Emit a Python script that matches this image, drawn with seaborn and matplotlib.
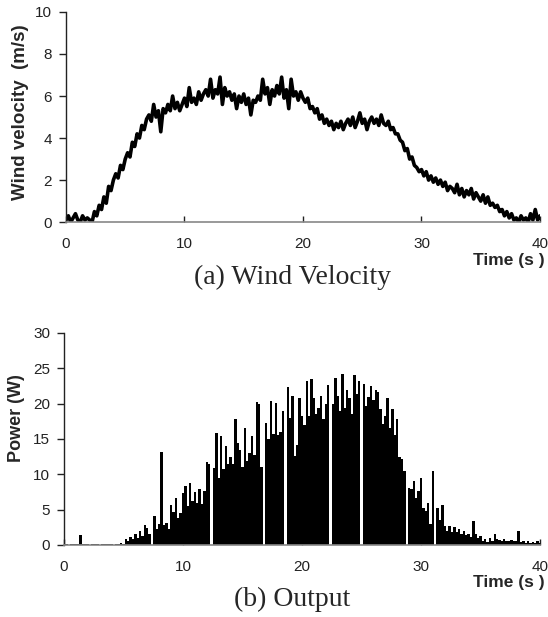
import numpy as np
import matplotlib
matplotlib.use("Agg")
import matplotlib.pyplot as plt
import seaborn as sns

t_start, t_end = 0.0, 40.0

wind_ms = [
    0.1, 0.3, 0.0, 0.2, 0.4, 0.1, 0.0, 0.3, 0.1, 0.2,
    0.1, 0.0, 0.5, 0.3, 0.8, 0.6, 1.2, 0.9, 1.7, 1.5,
    2.0, 2.3, 2.1, 2.7, 2.5, 3.0, 3.3, 3.1, 3.8, 3.6,
    4.2, 4.0, 4.6, 4.4, 4.9, 5.1, 4.8, 5.6, 5.0, 5.3,
    4.3, 5.4, 5.2, 5.6, 5.3, 6.0, 5.4, 5.7, 5.3, 5.6,
    5.9, 5.5, 6.4, 5.7, 5.9, 5.6, 6.2, 5.8, 6.1, 6.3,
    6.0, 6.8, 5.9, 6.3, 6.1, 6.9, 5.6, 6.4, 6.0, 6.2,
    5.8, 6.1, 5.4, 6.0, 5.7, 6.1, 5.6, 5.9, 5.1, 5.8,
    5.7, 6.0, 5.8, 6.8, 6.1, 6.4, 5.6, 6.3, 6.0, 6.5,
    6.1, 6.9, 5.9, 6.3, 5.4, 6.8, 6.0, 6.2, 5.8, 6.2,
    5.9, 5.7, 5.9, 5.4, 5.5, 5.2, 5.4, 4.9, 5.1, 4.7,
    4.9, 4.6, 4.8, 4.4, 4.7, 4.5, 4.8, 4.4, 4.7, 4.9,
    4.6, 5.0, 4.5, 4.8, 5.2, 4.7, 4.9, 4.4, 4.8, 5.0,
    4.7, 4.9, 4.6, 5.1, 4.7, 4.6, 4.8, 4.4, 4.5, 4.2,
    4.2, 3.9, 3.8, 3.4, 3.5, 3.0, 3.1, 2.7, 2.6, 2.4,
    2.5, 2.2, 2.4, 2.0, 2.2, 1.9, 2.1, 1.8, 2.0, 1.7,
    1.9, 1.5, 1.7, 1.6, 1.4, 1.8, 1.3, 1.6, 1.2, 1.5,
    1.3, 1.6, 1.1, 1.4, 1.2, 1.0, 1.3, 0.9, 1.2, 0.8,
    0.9, 0.7, 0.8, 0.5, 0.6, 0.3, 0.5, 0.2, 0.4, 0.1,
    0.2, 0.0, 0.3, 0.1, 0.2, 0.0, 0.4, 0.1, 0.6, 0.1,
    0.3,
]

power_w = [
    0.1, 0.1, 0.0, 0.1, 0.1, 0.1, 0.1, 1.4, 0.1, 0.1,
    0.1, 0.0, 0.1, 0.1, 0.1, 0.0, 0.1, 0.1, 0.1, 0.1,
    0.1, 0.0, 0.1, 0.2, 0.3, 0.2, 0.8, 0.5, 1.2, 0.9,
    1.5, 1.0, 2.0, 1.3, 2.8, 2.4, 1.6, 0.0, 4.1, 2.3,
    3.0, 13.2, 2.8, 3.1, 2.2, 5.7, 4.6, 6.7, 3.8, 4.5,
    7.4, 8.4, 5.5, 8.8, 6.2, 7.5, 6.0, 7.9, 5.8, 7.6,
    11.8, 11.5, 0.0, 10.9, 15.8, 9.5, 15.4, 10.8, 14.0, 11.5,
    12.4, 11.4, 17.8, 14.5, 13.5, 11.0, 16.6, 11.9, 13.0, 15.4,
    12.8, 20.3, 20.0, 11.0, 0.0, 17.3, 15.0, 20.4, 15.7, 20.1,
    15.5, 16.0, 19.0, 0.0, 22.4, 18.0, 21.1, 12.6, 14.2, 20.8,
    18.3, 17.0, 23.2, 18.3, 23.5, 20.8, 18.5, 19.4, 21.1, 17.8,
    20.0, 22.7, 0.0, 19.9, 23.7, 21.1, 19.0, 24.2, 19.4, 22.0,
    20.8, 18.5, 24.0, 21.3, 23.2, 0.0, 22.8, 19.7, 21.0, 22.5,
    20.5, 22.0, 21.7, 19.2, 17.1, 18.3, 20.8, 16.5, 19.3, 15.6,
    17.9, 12.4, 12.1, 10.5, 0.0, 8.1, 7.9, 9.0, 6.7, 7.6,
    9.5, 5.3, 4.8, 6.0, 3.0, 10.5, 0.0, 5.3, 3.6, 5.7,
    2.7, 2.0, 2.7, 1.8, 2.5, 1.9, 2.2, 1.5, 2.0, 1.4,
    1.5, 1.2, 3.4, 1.5, 1.0, 1.3, 0.6, 0.9, 0.4, 1.0,
    0.6, 1.5, 0.8, 0.7, 0.5, 0.8, 0.6, 0.5, 0.7, 0.5,
    0.5, 2.0, 0.4, 0.5, 0.3, 0.5, 0.3, 0.4, 0.3, 0.5,
    0.3,
]

wind_ticks = [0, 2, 4, 6, 8, 10]
power_ticks = [0, 5, 10, 15, 20, 25, 30]
time_ticks = [0, 10, 20, 30, 40]

time_s = np.linspace(t_start, t_end, len(wind_ms))

# ---- styling ----
sns.set_theme(style="white")
plt.rcParams["font.family"] = ["Liberation Sans", "DejaVu Sans"]

fig = plt.figure(figsize=(5.48, 6.17), dpi=100)
ax1 = fig.add_axes([0.1204, 0.640, 0.865, 0.3406])
ax2 = fig.add_axes([0.1168, 0.1167, 0.8686, 0.3436])

# (a) wind velocity
sns.lineplot(x=time_s, y=wind_ms, ax=ax1, color="black", linewidth=2.6)
ax1.set_xlim(t_start, t_end)
ax1.set_ylim(0, 10)
ax1.set_yticks(wind_ticks)
ax1.set_xticks(time_ticks)
ax1.set_ylabel("Wind velocity  (m/s)", fontsize=13.5, fontweight="bold")
ax1.yaxis.set_label_coords(-0.078, 0.524)
ax1.set_xlabel("")

# (b) power output
ax2.bar(time_s, power_w, width=0.2, color="black", linewidth=0, align="center")
ax2.set_xlim(t_start, t_end)
ax2.set_ylim(0, 30)
ax2.set_yticks(power_ticks)
ax2.set_xticks(time_ticks)
ax2.set_ylabel("Power (W)", fontsize=13, fontweight="bold")
ax2.yaxis.set_label_coords(-0.082, 0.60)
ax2.set_xlabel("")

for ax in (ax1, ax2):
    for side in ("top", "right"):
        ax.spines[side].set_visible(False)
    ax.spines["left"].set_color("#222222")
    ax.spines["bottom"].set_color("#888888")
    ax.spines["left"].set_linewidth(1.0)
    ax.spines["bottom"].set_linewidth(1.2)
    ax.tick_params(axis="y", direction="out", length=5, width=1, color="#222222",
                   labelsize=11, labelcolor="#222222", pad=5, left=True)
    ax.tick_params(axis="x", direction="in", length=4, width=1, color="#222222",
                   labelsize=11, labelcolor="#222222", pad=11, bottom=True)
    ax.grid(False)

fig.text(545 / 548, 1 - 261 / 617, "Time (s )", ha="right", va="center",
         fontsize=12.5, fontweight="bold")
fig.text(292 / 548, 1 - 277 / 617, "(a) Wind Velocity", ha="center", va="center",
         fontsize=20, family=["Liberation Serif", "DejaVu Serif"])
fig.text(545 / 548, 1 - 582 / 617, "Time (s )", ha="right", va="center",
         fontsize=12.5, fontweight="bold")
fig.text(292 / 548, 1 - 599 / 617, "(b) Output", ha="center", va="center",
         fontsize=20, family=["Liberation Serif", "DejaVu Serif"])

fig.savefig("out.png", dpi=100, facecolor="white")
